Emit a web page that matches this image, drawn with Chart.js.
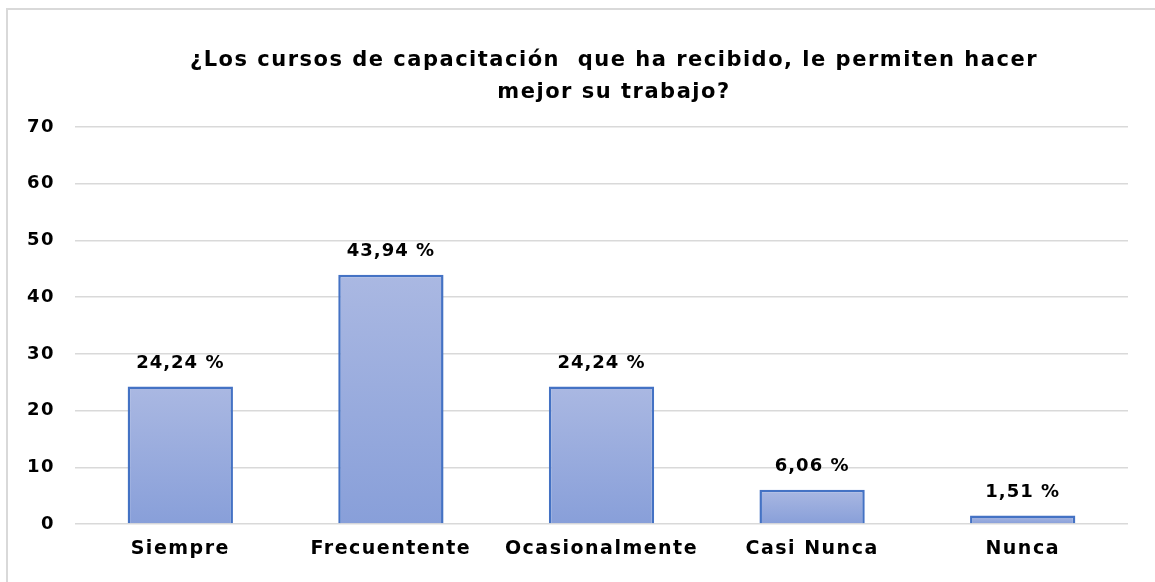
<!DOCTYPE html>
<html>
<head>
<meta charset="utf-8">
<script src="https://cdn.jsdelivr.net/npm/chart.js@4"></script>
<style>
  html, body { margin: 0; padding: 0; background: #fff; }
  #wrap { position: relative; width: 1155px; height: 582px; overflow: hidden; }
  #frame { position: absolute; left: 6px; top: 8px; width: 1200px; height: 600px;
           border-left: 2px solid #d9d9d9; border-top: 2px solid #d9d9d9; }
  canvas { position: absolute; left: 0; top: 0; }
</style>
</head>
<body>
<div id="wrap">
  <div id="frame"></div>
  <canvas id="chart" width="1155" height="582"></canvas>
</div>
<script>
const titleLines = ["¿Los cursos de capacitación  que ha recibido, le permiten hacer", "mejor su trabajo?"];
const categories = ["Siempre", "Frecuentente", "Ocasionalmente", "Casi Nunca", "Nunca"];
const percents = [24.24, 43.94, 24.24, 6.06, 1.51];
const pctLabels = ["24,24 %", "43,94 %", "24,24 %", "6,06 %", "1,51 %"];

const FONT = '"DejaVu Sans", sans-serif';

// wider letters, to get closer to the look of the original font
const spacing = {
    id: "spacing",
    beforeDraw(chart) {
        chart.ctx.letterSpacing = "1.5px";
    },
};

const titleText = {
    id: "titleText",
    afterDraw(chart) {
        const ctx = chart.ctx;
        ctx.save();
        ctx.letterSpacing = "1.5px";
        ctx.font = "bold 21px " + FONT;
        ctx.fillStyle = "#000";
        ctx.textAlign = "center";
        ctx.textBaseline = "middle";
        titleLines.forEach((line, i) => {
            ctx.fillText(line, 614, 61 + i * 32);
        });
        ctx.restore();
    },
};

const barLabels = {
    id: "barLabels",
    afterDatasetsDraw(chart) {
        const ctx = chart.ctx;
        const meta = chart.getDatasetMeta(0);
        ctx.save();
        ctx.letterSpacing = "1px";
        ctx.font = "bold 18px " + FONT;
        ctx.fillStyle = "#000";
        ctx.textAlign = "center";
        ctx.textBaseline = "bottom";
        meta.data.forEach((bar, i) => {
            ctx.fillText(pctLabels[i], bar.x, bar.y - 14);
        });
        ctx.restore();
    },
};

const barGradient = (context) => {
    const chart = context.chart;
    if (!chart.chartArea || context.dataIndex === undefined) return "#99abdc";
    const y = chart.scales.y;
    const top = y.getPixelForValue(percents[context.dataIndex]);
    const bottom = y.getPixelForValue(0);
    const g = chart.ctx.createLinearGradient(0, top, 0, bottom);
    g.addColorStop(0, "#aab8e2");
    g.addColorStop(1, "#889fd9");
    return g;
};

const ctx = document.getElementById("chart").getContext("2d");
const myChart = new Chart(ctx, {
    type: "bar",
    data: {
        labels: categories,
        datasets: [
            {
                data: percents,
                backgroundColor: barGradient,
                borderColor: "#4472c4",
                borderWidth: 2.5,
                borderSkipped: "bottom",
                categoryPercentage: 1,
                barPercentage: 0.5,
            },
        ],
    },
    options: {
        responsive: false,
        animation: false,
        layout: { padding: { left: 7, right: 27, top: 127, bottom: 0 } },
        plugins: {
            legend: { display: false },
            tooltip: { enabled: false },
            title: { display: false },
        },
        scales: {
            x: {
                grid: { display: false, drawTicks: false },
                border: { display: false },
                ticks: { color: "#000", padding: 14, maxRotation: 0, font: { family: FONT, size: 19, weight: "bold" } },
                afterFit: (s) => { s.height = 58; },
            },
            y: {
                min: 0,
                max: 70,
                ticks: { stepSize: 10, color: "#000", padding: 20, font: { family: FONT, size: 18, weight: "bold" } },
                grid: { color: "#d9d9d9", lineWidth: 1.5, drawTicks: false },
                border: { display: false },
                afterFit: (s) => { s.width = 68; },
            },
        },
    },
    plugins: [spacing, titleText, barLabels],
});
</script>
</body>
</html>
